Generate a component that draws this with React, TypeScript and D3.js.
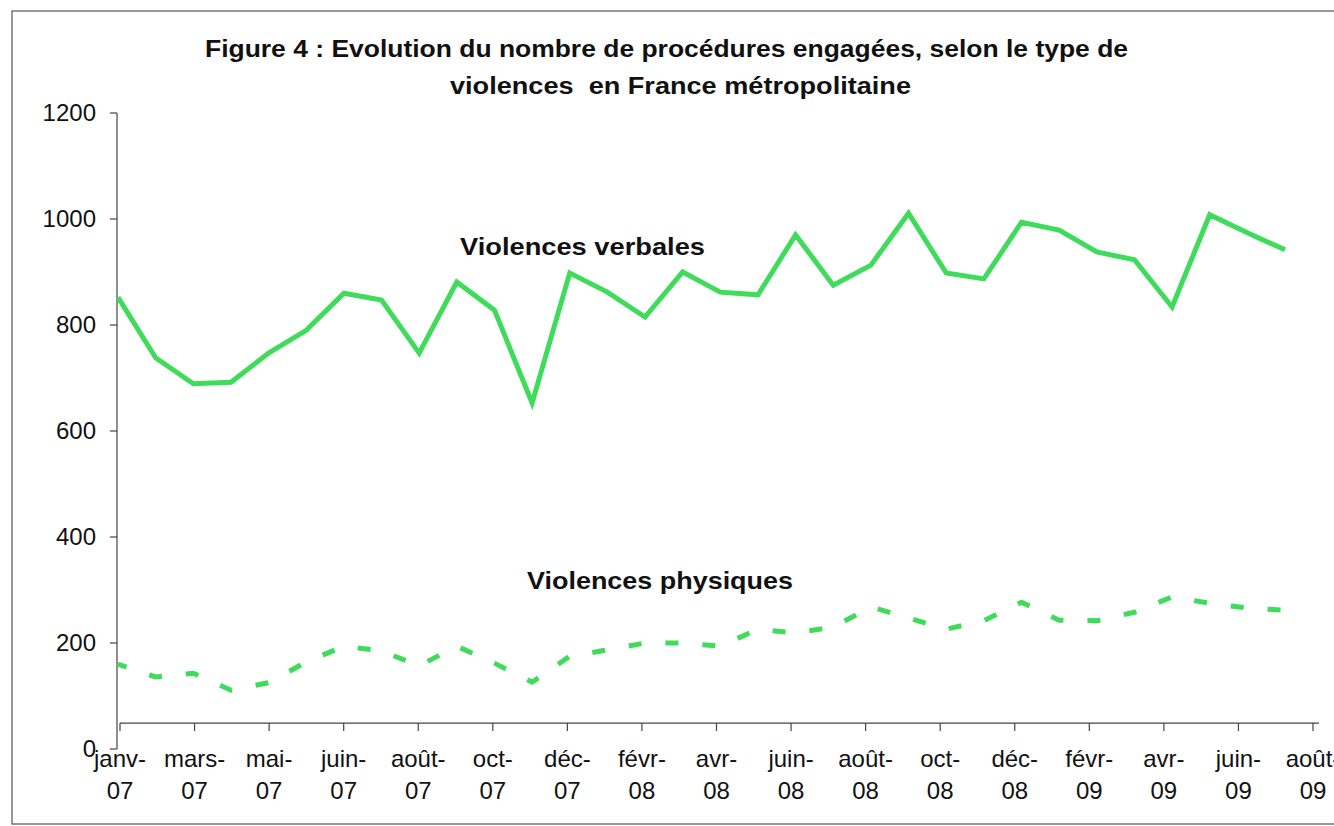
import React from "react";
import * as d3 from "d3";

// month index 0 = janv-07 ... 31 = août-09
const verbales = [
  852, 738, 689, 692, 747, 790, 860, 847, 747, 881, 828, 653, 898, 862, 815, 900,
  862, 857, 970, 875, 913, 1011, 898, 887, 994, 979, 938, 923, 834, 1008, 974, 942,
];
const physiques = [
  160, 136, 143, 111, 125, 164, 194, 185, 157, 194, 162, 126, 175, 187, 200, 200,
  194, 226, 219, 230, 268, 247, 226, 242, 277, 243, 242, 258, 287, 275, 266, 262,
];
const tickLabels = [
  ["janv-", "07"], ["mars-", "07"], ["mai-", "07"], ["juin-", "07"], ["août-", "07"],
  ["oct-", "07"], ["déc-", "07"], ["févr-", "08"], ["avr-", "08"], ["juin-", "08"],
  ["août-", "08"], ["oct-", "08"], ["déc-", "08"], ["févr-", "09"], ["avr-", "09"],
  ["juin-", "09"], ["août-", "09"],
];
const yTicks = [0, 200, 400, 600, 800, 1000, 1200];
const titleLines = [
  "Figure 4 : Evolution du nombre de procédures engagées, selon le type de",
  "violences  en France métropolitaine",
];

const W = 1334;
const H = 826;
const GREEN = "#3fdc5c";
const FONT = "'Liberation Sans', Arial, sans-serif";

// the scanned original is a bit wider than plain Arial, so texts get a fixed length
const titleSpan = [
  { x: 205, len: 923 },
  { x: 450, len: 461 },
];

export default function App() {
  const y = d3.scaleLinear().domain([0, 1200]).range([749, 113]);
  const xTick = d3.scaleLinear().domain([0, tickLabels.length - 1]).range([120, 1313]);
  const xPt = d3.scaleLinear().domain([0, verbales.length - 1]).range([118, 1285]);
  const axisX = 117;
  const crossY = y(49); // category axis sits a little above 0 in the original

  const line = d3
    .line<number>()
    .x((_, i) => xPt(i))
    .y((d) => y(d));

  return (
    <svg
      width={W}
      height={H}
      style={{ position: "absolute", left: 0, top: 0, background: "#fff" }}
      fontFamily={FONT}
    >
      <rect x={12} y={11} width={W} height={813} fill="none" stroke="#555" strokeWidth={1.2} />

      {titleLines.map((t, i) => (
        <text
          key={i}
          x={titleSpan[i].x}
          y={57 + i * 37}
          textLength={titleSpan[i].len}
          lengthAdjust="spacingAndGlyphs"
          fontWeight="bold"
          fontSize={23}
          fill="#111"
          style={{ whiteSpace: "pre" }}
        >
          {t}
        </text>
      ))}

      {/* y axis */}
      <line x1={axisX} x2={axisX} y1={y(1200)} y2={y(0)} stroke="#444" strokeWidth={1.2} />
      {yTicks.map((t) => (
        <g key={t}>
          <line x1={axisX - 7} x2={axisX} y1={y(t)} y2={y(t)} stroke="#444" strokeWidth={1.2} />
          <text x={96} y={y(t) + 8} textAnchor="end" fontSize={24} fill="#111">
            {t}
          </text>
        </g>
      ))}

      {/* x axis */}
      <line x1={120} x2={1319} y1={crossY} y2={crossY} stroke="#444" strokeWidth={1.2} />
      {tickLabels.map((lab, i) => (
        <g key={i}>
          <line x1={xTick(i)} x2={xTick(i)} y1={crossY} y2={crossY + 8} stroke="#444" strokeWidth={1.2} />
          <text x={xTick(i)} y={767} textAnchor="middle" fontSize={24} fill="#111">
            {lab[0]}
          </text>
          <text x={xTick(i)} y={799} textAnchor="middle" fontSize={24} fill="#111">
            {lab[1]}
          </text>
        </g>
      ))}

      {/* series */}
      <path d={line(verbales) ?? ""} fill="none" stroke={GREEN} strokeWidth={5} strokeLinejoin="miter" />
      <path
        d={line(physiques) ?? ""}
        fill="none"
        stroke={GREEN}
        strokeWidth={5}
        strokeDasharray="13 24"
        strokeDashoffset={4}
      />

      <text x={460} y={255} textLength={245} lengthAdjust="spacingAndGlyphs" fontWeight="bold" fontSize={24} fill="#111">
        Violences verbales
      </text>
      <text x={527} y={589} textLength={266} lengthAdjust="spacingAndGlyphs" fontWeight="bold" fontSize={24} fill="#111">
        Violences physiques
      </text>
    </svg>
  );
}
